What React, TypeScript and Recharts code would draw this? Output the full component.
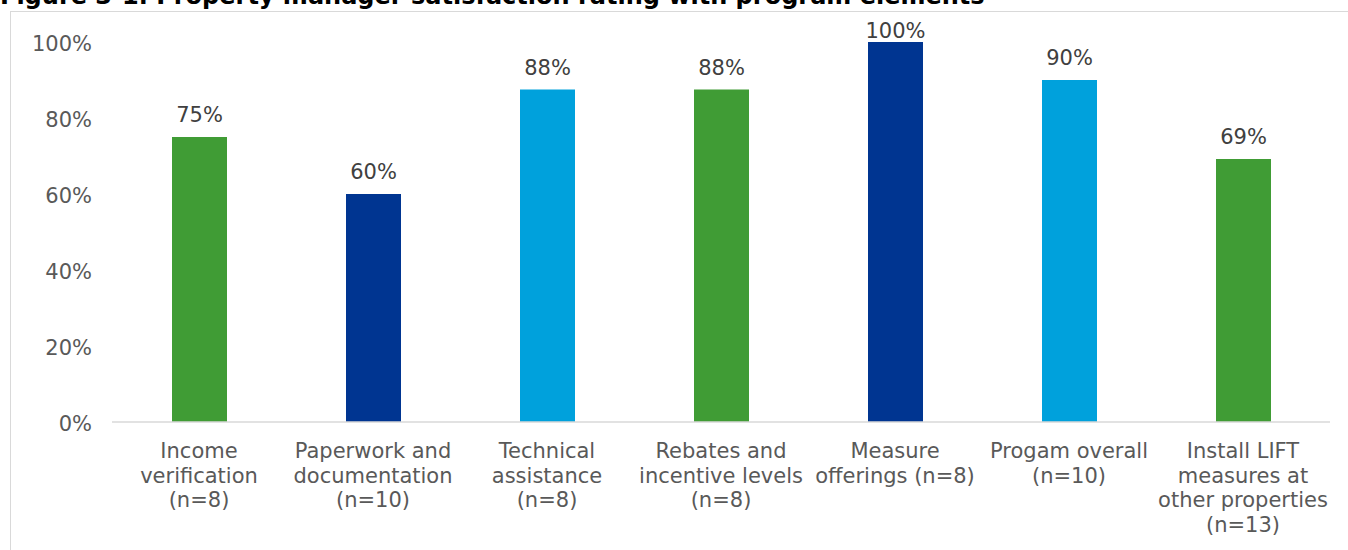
import { Bar, BarChart, Cell, LabelList, XAxis, YAxis } from "recharts";

const categories = [
  "Income\nverification\n(n=8)",
  "Paperwork and\ndocumentation\n(n=10)",
  "Technical\nassistance\n(n=8)",
  "Rebates and\nincentive levels\n(n=8)",
  "Measure\nofferings (n=8)",
  "Progam overall\n(n=10)",
  "Install LIFT\nmeasures at\nother properties\n(n=13)",
];

// share of property managers satisfied (7/8 = 87.5%, 9/13 = 69.2% etc.)
const satisfied = [0.75, 0.6, 0.875, 0.875, 1, 0.9, 0.692];

const barColors = ["#409c35", "#003591", "#00a1dc", "#409c35", "#003591", "#00a1dc", "#409c35"];

const yTicks = [0, 0.2, 0.4, 0.6, 0.8, 1];

const data = categories.map((name, i) => ({ name, value: satisfied[i], color: barColors[i] }));

const FONT = "'DejaVu Sans', Verdana, sans-serif";

function CategoryTick({ x, y, payload }: { x?: number; y?: number; payload?: { value: string } }) {
  const lines = String(payload?.value ?? "").split("\n");
  return (
    <text x={x} y={y} textAnchor="middle" fill="#595959" fontSize={21} fontFamily={FONT}>
      {lines.map((line, i) => (
        <tspan key={i} x={x} dy={i === 0 ? 28 : 24.5}>
          {line}
        </tspan>
      ))}
    </text>
  );
}

function ValueLabel(props: any) {
  const { x, y, width, value } = props;
  // Excel pushes the label down when it would leave the plot area
  const baseline = Math.max(Number(y) - 15, 38);
  return (
    <text
      x={Number(x) + Number(width) / 2}
      y={baseline}
      textAnchor="middle"
      fill="#404040"
      fontSize={21}
      fontFamily={FONT}
    >
      {Math.round(Number(value) * 100)}%
    </text>
  );
}

export default function App() {
  return (
    <div
      style={{
        position: "absolute",
        left: 0,
        top: 0,
        width: 1348,
        height: 550,
        overflow: "hidden",
        background: "#fff",
        fontFamily: FONT,
      }}
    >
      <div
        style={{
          position: "absolute",
          left: 0,
          top: -16.5,
          fontSize: 24,
          lineHeight: "24px",
          fontWeight: "bold",
          color: "#000",
          whiteSpace: "nowrap",
        }}
      >
        Figure 3-1. Property manager satisfaction rating with program elements
      </div>
      <div
        style={{
          position: "absolute",
          left: 10,
          top: 11,
          width: 1400,
          height: 600,
          border: "1px solid #d9d9d9",
        }}
      />
      <div style={{ position: "absolute", left: 0, top: 0 }}>
        <BarChart
          width={1348}
          height={550}
          data={data}
          margin={{ top: 42, right: 18, bottom: 0, left: 0 }}
        >
          <XAxis
            dataKey="name"
            axisLine={{ stroke: "#d9d9d9", strokeWidth: 1.5 }}
            tickLine={false}
            interval={0}
            height={128}
            tick={<CategoryTick />}
          />
          <YAxis
            domain={[0, 1]}
            ticks={yTicks}
            width={112}
            axisLine={false}
            tickLine={false}
            tickMargin={14}
            tickFormatter={(v: number) => `${Math.round(v * 100)}%`}
            tick={{ fontSize: 21, fill: "#595959", fontFamily: FONT, dy: 2 }}
          />
          <Bar dataKey="value" barSize={55} isAnimationActive={false}>
            {data.map((entry) => (
              <Cell key={entry.name} fill={entry.color} />
            ))}
            <LabelList dataKey="value" content={<ValueLabel />} />
          </Bar>
        </BarChart>
      </div>
    </div>
  );
}
